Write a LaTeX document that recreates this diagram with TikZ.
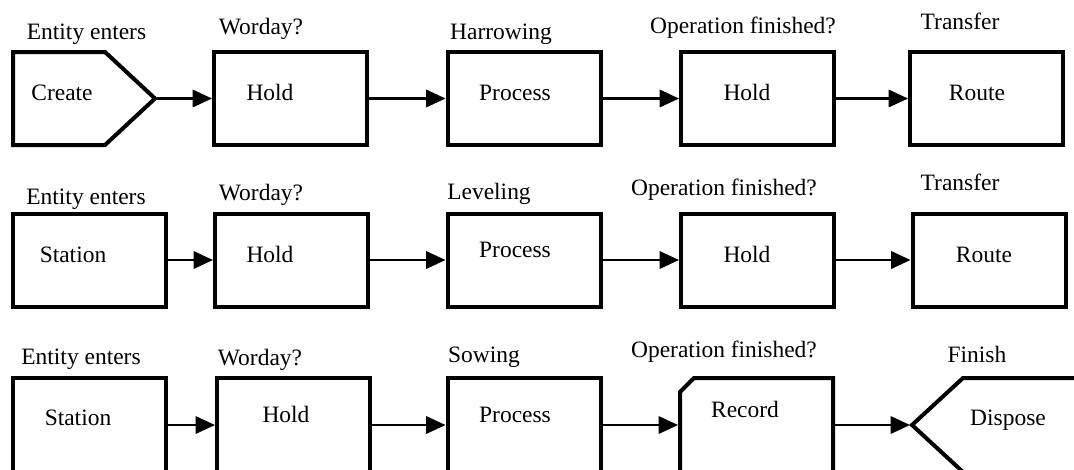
\documentclass[tikz,border=0pt]{standalone}
\usepackage{fontspec}
\setmainfont{Liberation Serif}
\usetikzlibrary{arrows.meta}
\begin{document}
\begin{tikzpicture}[x=0.75pt,y=-0.75pt,
  box/.style={draw, line width=3pt, minimum width=114.75pt, minimum height=69.75pt, inner sep=0pt, outer sep=1.5pt},
  ghost/.style={inner sep=0pt, outer sep=1.5pt, minimum height=69.75pt},
  shapeline/.style={line width=3pt, line join=miter},
  txt/.style={font=\fontsize{17.6}{20}\selectfont, inner sep=0pt, anchor=base},
  arr/.style={line width=1.7pt, -{Triangle[length=14.5pt,width=13pt]}}
]
\useasboundingbox (0,0) rectangle (1074,469);
\clip (0,0) rectangle (1074,469);

% ---------- Row 1 ----------
\draw[shapeline] (13,52) -- (105,52) -- (155,98.5) -- (105,145) -- (13,145) -- cycle;
\node[ghost, minimum width=106.5pt] (create) at (84,98.5) {};
\node[box] (hA1) at (290.5,98.5) {};
\node[box] (pA) at (524,98.5) {};
\node[box] (hA2) at (757.5,98.5) {};
\node[box] (rA) at (986.5,98.5) {};

\draw[arr] (create.east) -- (hA1.west);
\draw[arr] (hA1.east) -- (pA.west);
\draw[arr] (pA.east) -- (hA2.west);
\draw[arr] (hA2.east) -- (rA.west);

\node[txt] (tA1) at (86.5,39) {Entity enters};
\node[txt] (tA2) at (261,34) {Worday?};
\node[txt] (tA3) at (501,39) {Harrowing};
\node[txt] (tA4) at (743,33) {Operation finished?};
\node[txt] (tA5) at (960,29) {Transfer};
\node[txt] (iA1) at (62,100) {Create};
\node[txt] (iA2) at (270,100) {Hold};
\node[txt] (iA3) at (515,100) {Process};
\node[txt] (iA4) at (747,100) {Hold};
\node[txt] (iA5) at (977,100) {Route};

% ---------- Row 2 ----------
\node[box] (sB) at (89,260) {};
\node[box] (hB1) at (291.5,260) {};
\node[box] (pB) at (524,260) {};
\node[box] (hB2) at (757.5,260) {};
\node[box] (rB) at (989,260) {};

\draw[arr] (sB.east) -- (hB1.west);
\draw[arr] (hB1.east) -- (pB.west);
\draw[arr] (pB.east) -- (hB2.west);
\draw[arr] (hB2.east) -- (rB.west);

\node[txt] (tB1) at (86,204) {Entity enters};
\node[txt] (tB2) at (261,200) {Worday?};
\node[txt] (tB3) at (489,199) {Leveling};
\node[txt] (tB4) at (724,195) {Operation finished?};
\node[txt] (tB5) at (960,190) {Transfer};
\node[txt] (iB1) at (73,262) {Station};
\node[txt] (iB2) at (270,262) {Hold};
\node[txt] (iB3) at (515,257) {Process};
\node[txt] (iB4) at (747,262) {Hold};
\node[txt] (iB5) at (984,262) {Route};

% ---------- Row 3 ----------
\node[box, minimum height=70.5pt] (sC) at (89,425) {};
\node[box, minimum height=70.5pt] (hC1) at (293.5,425) {};
\node[box, minimum height=70.5pt] (pC) at (524,425) {};
\draw[shapeline] (680,392) -- (694,378) -- (833,378) -- (833,472) -- (680,472) -- cycle;
\node[ghost, minimum width=114.75pt, minimum height=70.5pt] (rec) at (756.5,425) {};
\draw[shapeline] (1080,378) -- (963,378) -- (912,425) -- (963,472) -- (1080,472);
\node[ghost, minimum width=126pt, minimum height=70.5pt] (disp) at (996,425) {};

\draw[arr] (sC.east) -- (hC1.west);
\draw[arr] (hC1.east) -- (pC.west);
\draw[arr] (pC.east) -- (rec.west);
\draw[arr] (rec.east) -- (disp.west);

\node[txt] (tC1) at (81,364) {Entity enters};
\node[txt] (tC2) at (260,365) {Worday?};
\node[txt] (tC3) at (484,362) {Sowing};
\node[txt] (tC4) at (724,357) {Operation finished?};
\node[txt] (tC5) at (977,362) {Finish};
\node[txt] (iC1) at (78,425) {Station};
\node[txt] (iC2) at (286,422) {Hold};
\node[txt] (iC3) at (515,422) {Process};
\node[txt] (iC4) at (745,417) {Record};
\node[txt] (iC5) at (1008,425) {Dispose};
\end{tikzpicture}
\end{document}
